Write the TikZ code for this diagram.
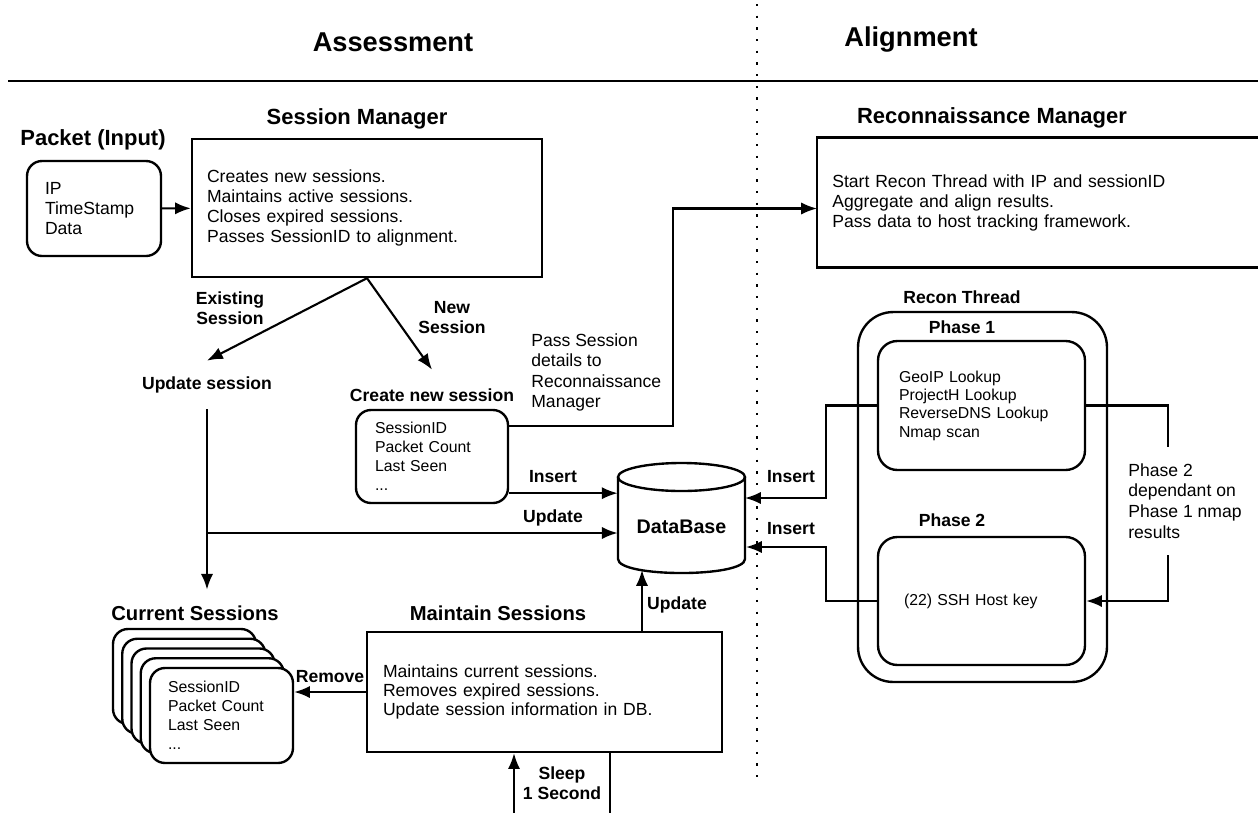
\documentclass[tikz,border=0pt]{standalone}
\usepackage{fontspec}
\setmainfont{Liberation Sans}
\usetikzlibrary{arrows.meta,calc}

\begin{document}
\begin{tikzpicture}[x=0.02cm,y=-0.02cm,
  conn/.style={line width=1.2pt},
  arr/.style={conn,-{Latex[length=9pt,width=7pt]}},
  boxed/.style={draw,line width=1.35pt,align=left},
  hrule/.style={line width=1.5pt},
  divider/.style={line width=1.3pt,dash pattern=on 1.3pt off 5.35pt},
  titletxt/.style={font=\fontsize{15.5}{18}\selectfont\bfseries},
  headtxt/.style={font=\fontsize{12.5}{15}\selectfont\bfseries},
  subhead/.style={font=\fontsize{11.5}{14}\selectfont\bfseries},
  tagtxt/.style={font=\fontsize{10}{11.4}\selectfont\bfseries,align=center},
  bodytxt/.style={font=\fontsize{10}{11.4}\selectfont},
  smalltxt/.style={font=\fontsize{9}{10.9}\selectfont},
  stackbox/.style={boxed,smalltxt,fill=white,rounded corners=8.5pt,
    minimum width=2.86cm,minimum height=1.9cm,text width=2.14cm,inner xsep=0.36cm}
]
\useasboundingbox (0,0) rectangle (1258,812);

% column titles, rule and divider
\node[titletxt] (tassess) at (393,42) {Assessment};
\node[titletxt] (talign) at (911,40) {Alignment};
\draw[hrule] (8,81) -- (1258,81);
\draw[divider] (757,4) -- (757,782);

% ---------- assessment side ----------
\node[headtxt] (pkh) at (93,140) {Packet (Input)};
\node[boxed,bodytxt,rounded corners=8.5pt,minimum width=2.68cm,minimum height=1.9cm,
      text width=1.96cm,inner xsep=0.36cm] (pk) at (94,208.5) {IP\\TimeStamp\\Data};

\node[headtxt] (smh) at (357,119) {Session Manager};
\node[boxed,bodytxt,minimum height=2.76cm,text width=6.4cm,inner xsep=0.3cm] (sm) at (367,208)
  {Creates new sessions.\\Maintains active sessions.\\Closes expired sessions.\\Passes SessionID to alignment.};

\node[tagtxt,minimum height=0.96cm,inner sep=0pt] (upd) at (207,385) {Update session};
\node[tagtxt,minimum height=1.0cm,inner sep=0pt] (cnh) at (432,395) {Create new session};
\node[boxed,smalltxt,rounded corners=8.5pt,minimum height=1.86cm,text width=2.28cm,
      inner xsep=0.38cm] (cn) at (432,456.5) {SessionID\\Packet Count\\Last Seen\\...};

\node[bodytxt,align=left,anchor=west,inner sep=0pt,font=\fontsize{10}{11.6}\selectfont] (pass) at (531,372.5)
  {Pass Session\\details to\\Reconnaissance\\Manager};

\node[tagtxt] (lex) at (230,308) {Existing\\Session};
\node[tagtxt] (lnew) at (452,318) {New\\Session};

% database cylinder
\node[minimum width=2.54cm,minimum height=2.2cm,inner sep=0pt] (db) at (681.5,518) {};
\draw[boxed,fill=white] (618,477) -- (618,559) .. controls (618,577.7) and (745,577.7) .. (745,559) -- (745,477);
\draw[boxed] (681.5,477) ellipse [x radius=1.27cm, y radius=0.28cm];
\node[font=\fontsize{11.2}{13}\selectfont\bfseries] (dbtext) at (681.5,527) {DataBase};

\node[subhead,minimum height=0.92cm,inner sep=0pt] (csh) at (195,613) {Current Sessions};
\foreach \k in {4,3,2,1}
  \node[stackbox] (cs\k) at ({221.5-9.25*\k},{715.5-9.75*\k}) {};
\node[stackbox] (cs0) at (221.5,715.5) {SessionID\\Packet Count\\Last Seen\\...};

\node[subhead] (msh) at (498,613) {Maintain Sessions};
\node[boxed,bodytxt,font=\fontsize{10}{10.6}\selectfont,minimum height=2.4cm,text width=6.46cm,inner xsep=0.32cm] (ms) at (544.5,692)
  {Maintains current sessions.\\Removes expired sessions.\\Update session information in DB.};

\node[tagtxt] (lins1) at (553,477) {Insert};
\node[tagtxt] (lupd1) at (553,518) {Update};
\node[tagtxt] (lupd2) at (677,605) {Update};
\node[tagtxt] (lrem) at (330,677) {Remove};
\node[tagtxt] (lsleep) at (562,783) {Sleep\\1 Second};

% ---------- alignment side ----------
\node[headtxt] (rmh) at (992,118) {Reconnaissance Manager};
\node[bodytxt,align=left,anchor=west,minimum width=8.96cm,minimum height=2.58cm,
      text width=8.36cm,inner xsep=0.3cm] (recon) at (817,202.5)
  {Start Recon Thread with IP and sessionID\\Aggregate and align results.\\Pass data to host tracking framework.};
\draw[boxed] (recon.north east) -- (recon.north west) -- (recon.south west) -- (recon.south east);

\node[tagtxt] (rth) at (962,297) {Recon Thread};
\node[boxed,rounded corners=20pt,minimum width=4.98cm,minimum height=7.4cm] (rt) at (982.5,497) {};
\node[tagtxt] (p1h) at (962,327) {Phase 1};
\node[boxed,smalltxt,font=\fontsize{9}{10.4}\selectfont,rounded corners=11pt,minimum height=2.58cm,
      text width=3.3cm,inner xsep=0.42cm] (ph1) at (981.5,405.5)
  {GeoIP Lookup\\ProjectH Lookup\\ReverseDNS Lookup\\Nmap scan};
\node[tagtxt] (p2h) at (952,520) {Phase 2};
\node[boxed,smalltxt,rounded corners=11pt,minimum height=2.56cm,
      text width=3.1cm,inner xsep=0.52cm] (ph2) at (981.5,601) {(22) SSH Host key};

\node[bodytxt,align=left,anchor=west,inner sep=0pt,minimum height=2.16cm,
      font=\fontsize{10}{11.8}\selectfont] (dep) at (1128,501)
  {Phase 2\\dependant on\\Phase 1 nmap\\results};

\node[tagtxt] (lins2) at (791,477) {Insert};
\node[tagtxt] (lins3) at (791,529) {Insert};

% ---------- connectors ----------
\draw[arr] (pk) -- (sm);
\draw[arr] (sm.south) -- (upd.north);
\draw[arr] (sm.south) -- (cnh.north);
\draw[arr] (upd.south) -- (upd.south |- csh.north);
\coordinate (br) at (207,533);
\draw[arr] (br) -- (br -| db.west);
\coordinate (ci) at ($(cn.south east)+(0,-11)$);
\draw[arr] (ci) -- (ci -| db.west);
\draw[arr] ($(cn.north east)+(0,17)$) -- ++(164,0) |- ($(recon.west)+(0,6)$);

\coordinate (dbr1) at (745,498);
\coordinate (dbr2) at (746,547);
\draw[arr] (ph1.west) -- ++(-51,0) |- (dbr1);
\draw[arr] (ph2.west) -- ++(-51,0) |- (dbr2);

\coordinate (bx) at (1168,0);
\draw[conn] (ph1.east) -| (dep.north -| bx);
\draw[arr] (dep.south -| bx) |- (ph2.east);

\draw[arr] (ms.west) -- (ms.west -| cs0.east);
\coordinate (dbu) at (642,570);
\draw[arr] (ms.north -| dbu) -- (dbu);
\coordinate (sa) at (610,818);
\coordinate (sb) at (514,818);
\draw[arr] (ms.south -| sa) -- (sa) -- (sb) -- (ms.south -| sb);
\end{tikzpicture}
\end{document}
